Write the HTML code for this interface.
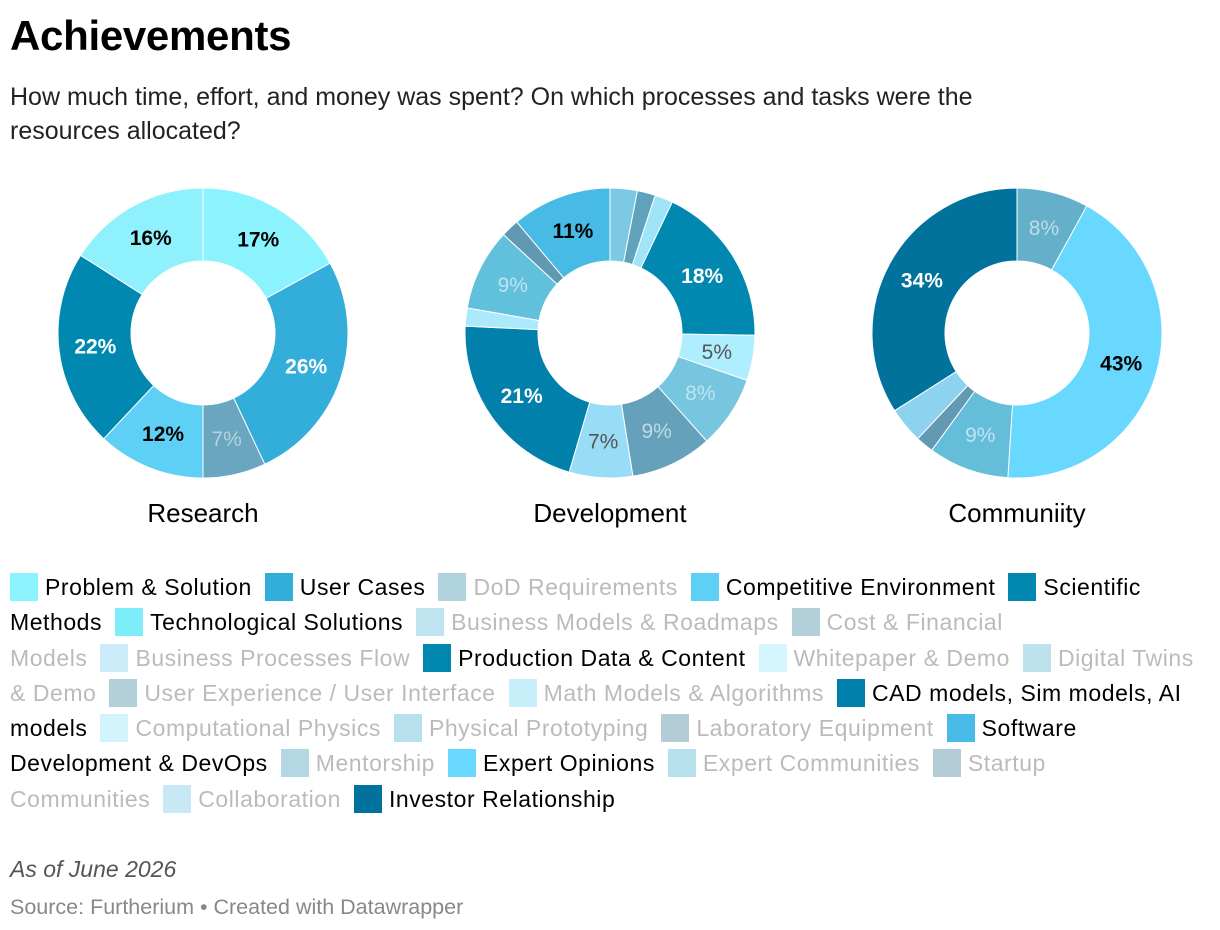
<!DOCTYPE html>
<html><head><meta charset="utf-8">
<style>
body{margin:0;width:1220px;height:930px;background:#fff;font-family:"Liberation Sans",sans-serif;color:#000;overflow:hidden;position:relative}
h1{position:absolute;left:10px;top:12px;margin:0;font-size:42px;font-weight:bold;letter-spacing:-0.3px}
.sub{position:absolute;left:10px;top:80px;font-size:25px;line-height:34px;color:#222;width:1075px}
.lab{position:absolute;top:498px;font-size:26px;text-align:center;width:300px}
.leg{position:absolute;left:10px;top:570px;font-size:23px;letter-spacing:0.55px}
.ln{height:35.3px;line-height:35px;white-space:nowrap}
.it{display:inline-block;margin-right:13px}
.sw{display:inline-block;width:28px;height:28px;vertical-align:-6px;margin-right:7px}
.f{color:#bbb}
.note{position:absolute;left:10px;top:856px;font-size:23px;font-style:italic;color:#555}
.src{position:absolute;left:10px;top:895px;font-size:21.5px;color:#888}
</style></head><body>
<h1>Achievements</h1>
<div class="sub">How much time, effort, and money was spent? On which processes and tasks were the resources allocated?</div>
<svg id="ch" width="1220" height="500" style="position:absolute;left:0;top:0"></svg>
<div class="lab" style="left:53px">Research</div>
<div class="lab" style="left:460px">Development</div>
<div class="lab" style="left:867px">Communiity</div>
<div class="leg">
<div class="ln"><span class="it"><span class="sw" style="background:#8af3fe"></span>Problem &amp; Solution</span><span class="it"><span class="sw" style="background:#33add9"></span>User Cases</span><span class="it f"><span class="sw" style="background:#b0d3de"></span>DoD Requirements</span><span class="it"><span class="sw" style="background:#5ecff5"></span>Competitive Environment</span><span class="it"><span class="sw" style="background:#0088b1"></span>Scientific</span></div>
<div class="ln"><span class="it">Methods</span><span class="it"><span class="sw" style="background:#7eedfa"></span>Technological Solutions</span><span class="it f"><span class="sw" style="background:#bfe4f0"></span>Business Models &amp; Roadmaps</span><span class="it f"><span class="sw" style="background:#b3cfd8"></span>Cost &amp; Financial</span></div>
<div class="ln"><span class="it f">Models</span><span class="it f"><span class="sw" style="background:#cbebf8"></span>Business Processes Flow</span><span class="it"><span class="sw" style="background:#0088b0"></span>Production Data &amp; Content</span><span class="it f"><span class="sw" style="background:#d6f6ff"></span>Whitepaper &amp; Demo</span><span class="it f"><span class="sw" style="background:#bde2ee"></span>Digital Twins</span></div>
<div class="ln"><span class="it f">&amp; Demo</span><span class="it f"><span class="sw" style="background:#b3cfd8"></span>User Experience / User Interface</span><span class="it f"><span class="sw" style="background:#c8eefa"></span>Math Models &amp; Algorithms</span><span class="it"><span class="sw" style="background:#0080ab"></span>CAD models, Sim models, AI</span></div>
<div class="ln"><span class="it">models</span><span class="it f"><span class="sw" style="background:#d2f3fc"></span>Computational Physics</span><span class="it f"><span class="sw" style="background:#b7e0ec"></span>Physical Prototyping</span><span class="it f"><span class="sw" style="background:#b3ccd6"></span>Laboratory Equipment</span><span class="it"><span class="sw" style="background:#47bbe6"></span>Software</span></div>
<div class="ln"><span class="it">Development &amp; DevOps</span><span class="it f"><span class="sw" style="background:#b3d7e3"></span>Mentorship</span><span class="it"><span class="sw" style="background:#68d8fe"></span>Expert Opinions</span><span class="it f"><span class="sw" style="background:#b5e0ec"></span>Expert Communities</span><span class="it f"><span class="sw" style="background:#b3ccd6"></span>Startup</span></div>
<div class="ln"><span class="it f">Communities</span><span class="it f"><span class="sw" style="background:#c7e9f6"></span>Collaboration</span><span class="it"><span class="sw" style="background:#00729c"></span>Investor Relationship</span></div>
</div>
<div class="note">As of June 2026</div>
<div class="src">Source: Furtherium • Created with Datawrapper</div>
<script>
const researchValues=[17,26,7,12,22,16];
const researchLabels=["17%","26%","7%","12%","22%","16%"];
const researchColors=["#8af3fe","#33add9","#6aa6bf","#5ecff5","#0088b1","#8ff1fb"];
const researchText=["#000","#fff","#b5d3de","#000","#fff","#000"];
const devValues=[3,2,2,18,5,8,9,7,21,2,9,2,11];
const devLabels=["","","","18%","5%","8%","9%","7%","21%","","9%","","11%"];
const devColors=["#7cc9e3","#60a1bb","#a0e4f7","#0088b0","#aeeeff","#77c6e0","#66a1bb","#98dcf5","#0080ab","#abe9fb","#61c0dc","#6099b1","#47bbe6"];
const devText=["","","","#fff","#555","#c0e4f0","#c0dbe6","#555","#fff","","#bfe4f0","","#000"];
const comValues=[8,43,9,2,4,34];
const comLabels=["8%","43%","9%","2%","",'34%'];
const comColors=["#64afc9","#68d8fe","#64bed9","#6399b2","#8dd2ef","#00729c"];
const comText=["#c0dde8","#000","#c0e4f0","","","#fff"];
const svg=document.getElementById('ch');
const NS="http://www.w3.org/2000/svg";
function donut(cx,cy,vals,labs,cols,txt,name){
  const R=145,r=72,tot=vals.reduce((a,b)=>a+b,0);let a0=0;
  vals.forEach((v,i)=>{
    const a1=a0+v/tot*2*Math.PI;
    const p=(rad,a)=>[cx+rad*Math.sin(a),cy-rad*Math.cos(a)];
    const [x1,y1]=p(R,a0),[x2,y2]=p(R,a1),[x3,y3]=p(r,a1),[x4,y4]=p(r,a0);
    const lg=(a1-a0)>Math.PI?1:0;
    const path=document.createElementNS(NS,'path');
    path.setAttribute('d',`M${x1},${y1}A${R},${R} 0 ${lg} 1 ${x2},${y2}L${x3},${y3}A${r},${r} 0 ${lg} 0 ${x4},${y4}Z`);
    path.setAttribute('fill',cols[i]);path.setAttribute('stroke','#fff');path.setAttribute('stroke-width','1');
    
    
    svg.appendChild(path);
    if(labs[i]&&v>=4){
      const am=(a0+a1)/2,[tx,ty]=p((R+r)/2,am);
      const t=document.createElementNS(NS,'text');
      t.setAttribute('x',tx);t.setAttribute('y',ty+7);t.setAttribute('text-anchor','middle');
      t.setAttribute('font-size','21');t.setAttribute('font-family','Liberation Sans, sans-serif');
      const bold=txt[i]==='#fff'||txt[i]==='#000';
      if(bold)t.setAttribute('font-weight','bold');
      t.setAttribute('fill',txt[i]);t.textContent=labs[i];
      
      
      svg.appendChild(t);
    }
    a0=a1;
  });
}
donut(203,333,researchValues,researchLabels,researchColors,researchText,'research');
donut(610,333,devValues,devLabels,devColors,devText,'development');
donut(1017,333,comValues,comLabels,comColors,comText,'community');
</script>
</body></html>
